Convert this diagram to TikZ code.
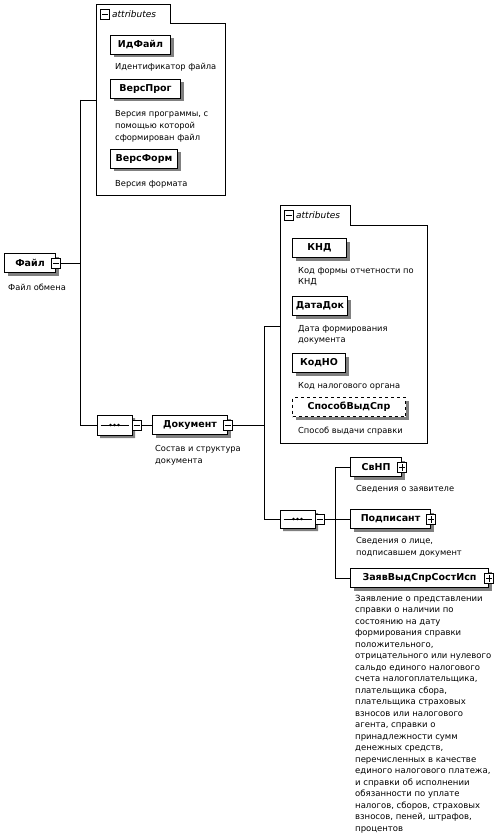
\documentclass[tikz,border=0pt]{standalone}
\usepackage{fontspec}
\setmainfont{DejaVu Sans}
\usetikzlibrary{shapes.misc,shadows}
\tikzset{
  shd/.style={drop shadow={shadow xshift=3pt,shadow yshift=-3pt,fill=black!50,opacity=1}},
  el/.style={draw,fill=white,line width=1pt,shd,font=\bfseries\fontsize{9.5}{11}\selectfont,
             inner sep=0pt,minimum height=19pt,anchor=west},
  desc/.style={anchor=base west,inner sep=0pt,align=left},
  expbox/.style={draw,fill=white,line width=0.8pt,minimum width=9pt,minimum height=10pt,inner sep=0pt},
  minusbox/.style={expbox,path picture={\draw[line width=0.8pt]
      ([xshift=1.5pt]path picture bounding box.west) -- ([xshift=-1.5pt]path picture bounding box.east);}},
  plusbox/.style={expbox,path picture={\draw[line width=0.8pt]
      ([xshift=1.5pt]path picture bounding box.west) -- ([xshift=-1.5pt]path picture bounding box.east)
      ([yshift=1.5pt]path picture bounding box.south) -- ([yshift=-1.5pt]path picture bounding box.north);}},
  seqnode/.style={chamfered rectangle,chamfered rectangle xsep=5pt,chamfered rectangle ysep=5pt,
      draw,fill=white,line width=1pt,shd,minimum width=35pt,minimum height=20pt,inner sep=0pt},
  attrbox/.style={draw,line width=0.9pt},
  conn/.style={line width=0.9pt},
  attrlabel/.style={anchor=west,inner sep=0pt,font=\itshape\fontsize{9}{11}\selectfont}
}
\newcommand{\seqinside}[1]{%
  \draw[line width=0.8pt] ([xshift=4pt]#1.west) -- ([xshift=-4pt]#1.east);
  \foreach \dx in {-4,0,4}{\fill ([xshift=\dx pt]#1.center) circle (1.4pt);}%
}
\begin{document}
\begin{tikzpicture}[x=1pt,y=-1pt]
\useasboundingbox[fill=white] (0,0) rectangle (499,837);

% ---------- first attributes box ----------
\draw[attrbox] (96,4) -- (170,4) -- (170,23) -- (225,23) -- (225,195) -- (96,195) -- cycle;
\node[minusbox] (a1m) at (105,14) {};
\node[attrlabel] (a1l) at (112,14) {attributes};
\coordinate (a1w) at (96,100);

\node[el,minimum width=60pt] (idf) at (110,45) {ИдФайл};
\node[desc,font=\fontsize{8.3}{12}\selectfont] (idfd) at (115,70) {Идентификатор файла};
\node[el,minimum width=70pt] (vp) at (110,89) {ВерсПрог};
\node[desc,font=\fontsize{8.3}{12}\selectfont] (vpd) at (115,141) {Версия программы, с\\помощью которой\\сформирован файл};
\node[el,minimum width=67pt] (vf) at (110,159) {ВерсФорм};
\node[desc,font=\fontsize{8.3}{12}\selectfont] (vfd) at (115,186) {Версия формата};

% ---------- root ----------
\node[el,minimum width=51pt] (file) at (4,263) {Файл\hspace{6pt}};
\node[minusbox] (filem) at (file.east) {};
\node[desc,font=\fontsize{8.3}{12}\selectfont] (filed) at (8,290) {Файл обмена};

\coordinate (t1top) at (80,100);
\coordinate (t1mid) at (80,263);
\coordinate (t1bot) at (80,425);
\draw[conn] (t1top) -- (t1bot);
\draw[conn] (t1top) -- (a1w);
\draw[conn] (filem.east) -- (t1mid);

% ---------- sequence 1 ----------
\node[seqnode] (seq1) at (114.5,425) {};
\seqinside{seq1}
\node[minusbox] (seq1m) at (136.5,425) {};
\draw[conn] (t1bot) -- (seq1.west);

% ---------- Документ ----------
\node[el,minimum width=75pt] (doc) at (152,425) {Документ\hspace{6pt}};
\node[minusbox] (docm) at (doc.east) {};
\draw[conn] (seq1m.east) -- (doc.west);
\node[desc,font=\fontsize{8.3}{12}\selectfont] (docd) at (155,463) {Состав и структура\\документа};

\coordinate (t2top) at (264,326);
\coordinate (t2mid) at (264,425);
\coordinate (t2bot) at (264,519);
\draw[conn] (t2top) -- (t2bot);
\draw[conn] (docm.east) -- (t2mid);

% ---------- second attributes box ----------
\draw[attrbox] (280,205) -- (350,205) -- (350,225) -- (427,225) -- (427,443) -- (280,443) -- cycle;
\node[minusbox] (a2m) at (289,215) {};
\node[attrlabel] (a2l) at (296,215) {attributes};
\coordinate (a2w) at (280,326);
\draw[conn] (t2top) -- (a2w);

\node[el,minimum width=54pt] (knd) at (292,248) {КНД};
\node[desc,font=\fontsize{8.3}{11}\selectfont] (kndd) at (298,284) {Код формы отчетности по\\КНД};
\node[el,minimum width=55pt] (dd) at (292,306) {ДатаДок};
\node[desc,font=\fontsize{8.3}{11}\selectfont] (ddd) at (298,342) {Дата формирования\\документа};
\node[el,minimum width=53pt] (kno) at (292,363) {КодНО};
\node[desc,font=\fontsize{8.3}{11}\selectfont] (knod) at (298,388) {Код налогового органа};
\node[el,dashed,minimum width=113pt] (spos) at (292,407) {СпособВыдСпр};
\node[desc,font=\fontsize{8.3}{11}\selectfont] (sposd) at (298,433) {Способ выдачи справки};

% ---------- sequence 2 ----------
\node[seqnode,minimum height=18pt] (seq2) at (297.5,519) {};
\seqinside{seq2}
\node[minusbox] (seq2m) at (319.5,519) {};
\draw[conn] (t2bot) -- (seq2.west);

\coordinate (t3top) at (335,467);
\coordinate (t3mid) at (335,519);
\coordinate (t3bot) at (335,578);
\draw[conn] (t3top) -- (t3bot);
\draw[conn] (seq2m.east) -- (t3mid);

\node[el,minimum width=51pt] (svnp) at (350,467) {СвНП\hspace{6pt}};
\node[plusbox] (svnpp) at (svnp.east) {};
\node[desc,font=\fontsize{8.3}{12}\selectfont] (svnpd) at (356,491) {Сведения о заявителе};
\draw[conn] (t3top) -- (svnp.west);

\node[el,minimum width=80pt] (podp) at (350,519) {Подписант\hspace{6pt}};
\node[plusbox] (podpp) at (podp.east) {};
\node[desc,font=\fontsize{8.3}{12.5}\selectfont] (podpd) at (356,555.5) {Сведения о лице,\\подписавшем документ};
\draw[conn] (t3mid) -- (podp.west);

\node[el,minimum width=138pt] (zayv) at (350,578) {ЗаявВыдСпрСостИсп\hspace{6pt}};
\node[plusbox] (zayvp) at (zayv.east) {};
\draw[conn] (t3bot) -- (zayv.west);
\node[desc,font=\fontsize{8.5}{11.5}\selectfont] (zayvd) at (355,831) {Заявление о представлении\\справки о наличии по\\состоянию на дату\\формирования справки\\положительного,\\отрицательного или нулевого\\сальдо единого налогового\\счета налогоплательщика,\\плательщика сбора,\\плательщика страховых\\взносов или налогового\\агента, справки о\\принадлежности сумм\\денежных средств,\\перечисленных в качестве\\единого налогового платежа,\\и справки об исполнении\\обязанности по уплате\\налогов, сборов, страховых\\взносов, пеней, штрафов,\\процентов};
\end{tikzpicture}
\end{document}
